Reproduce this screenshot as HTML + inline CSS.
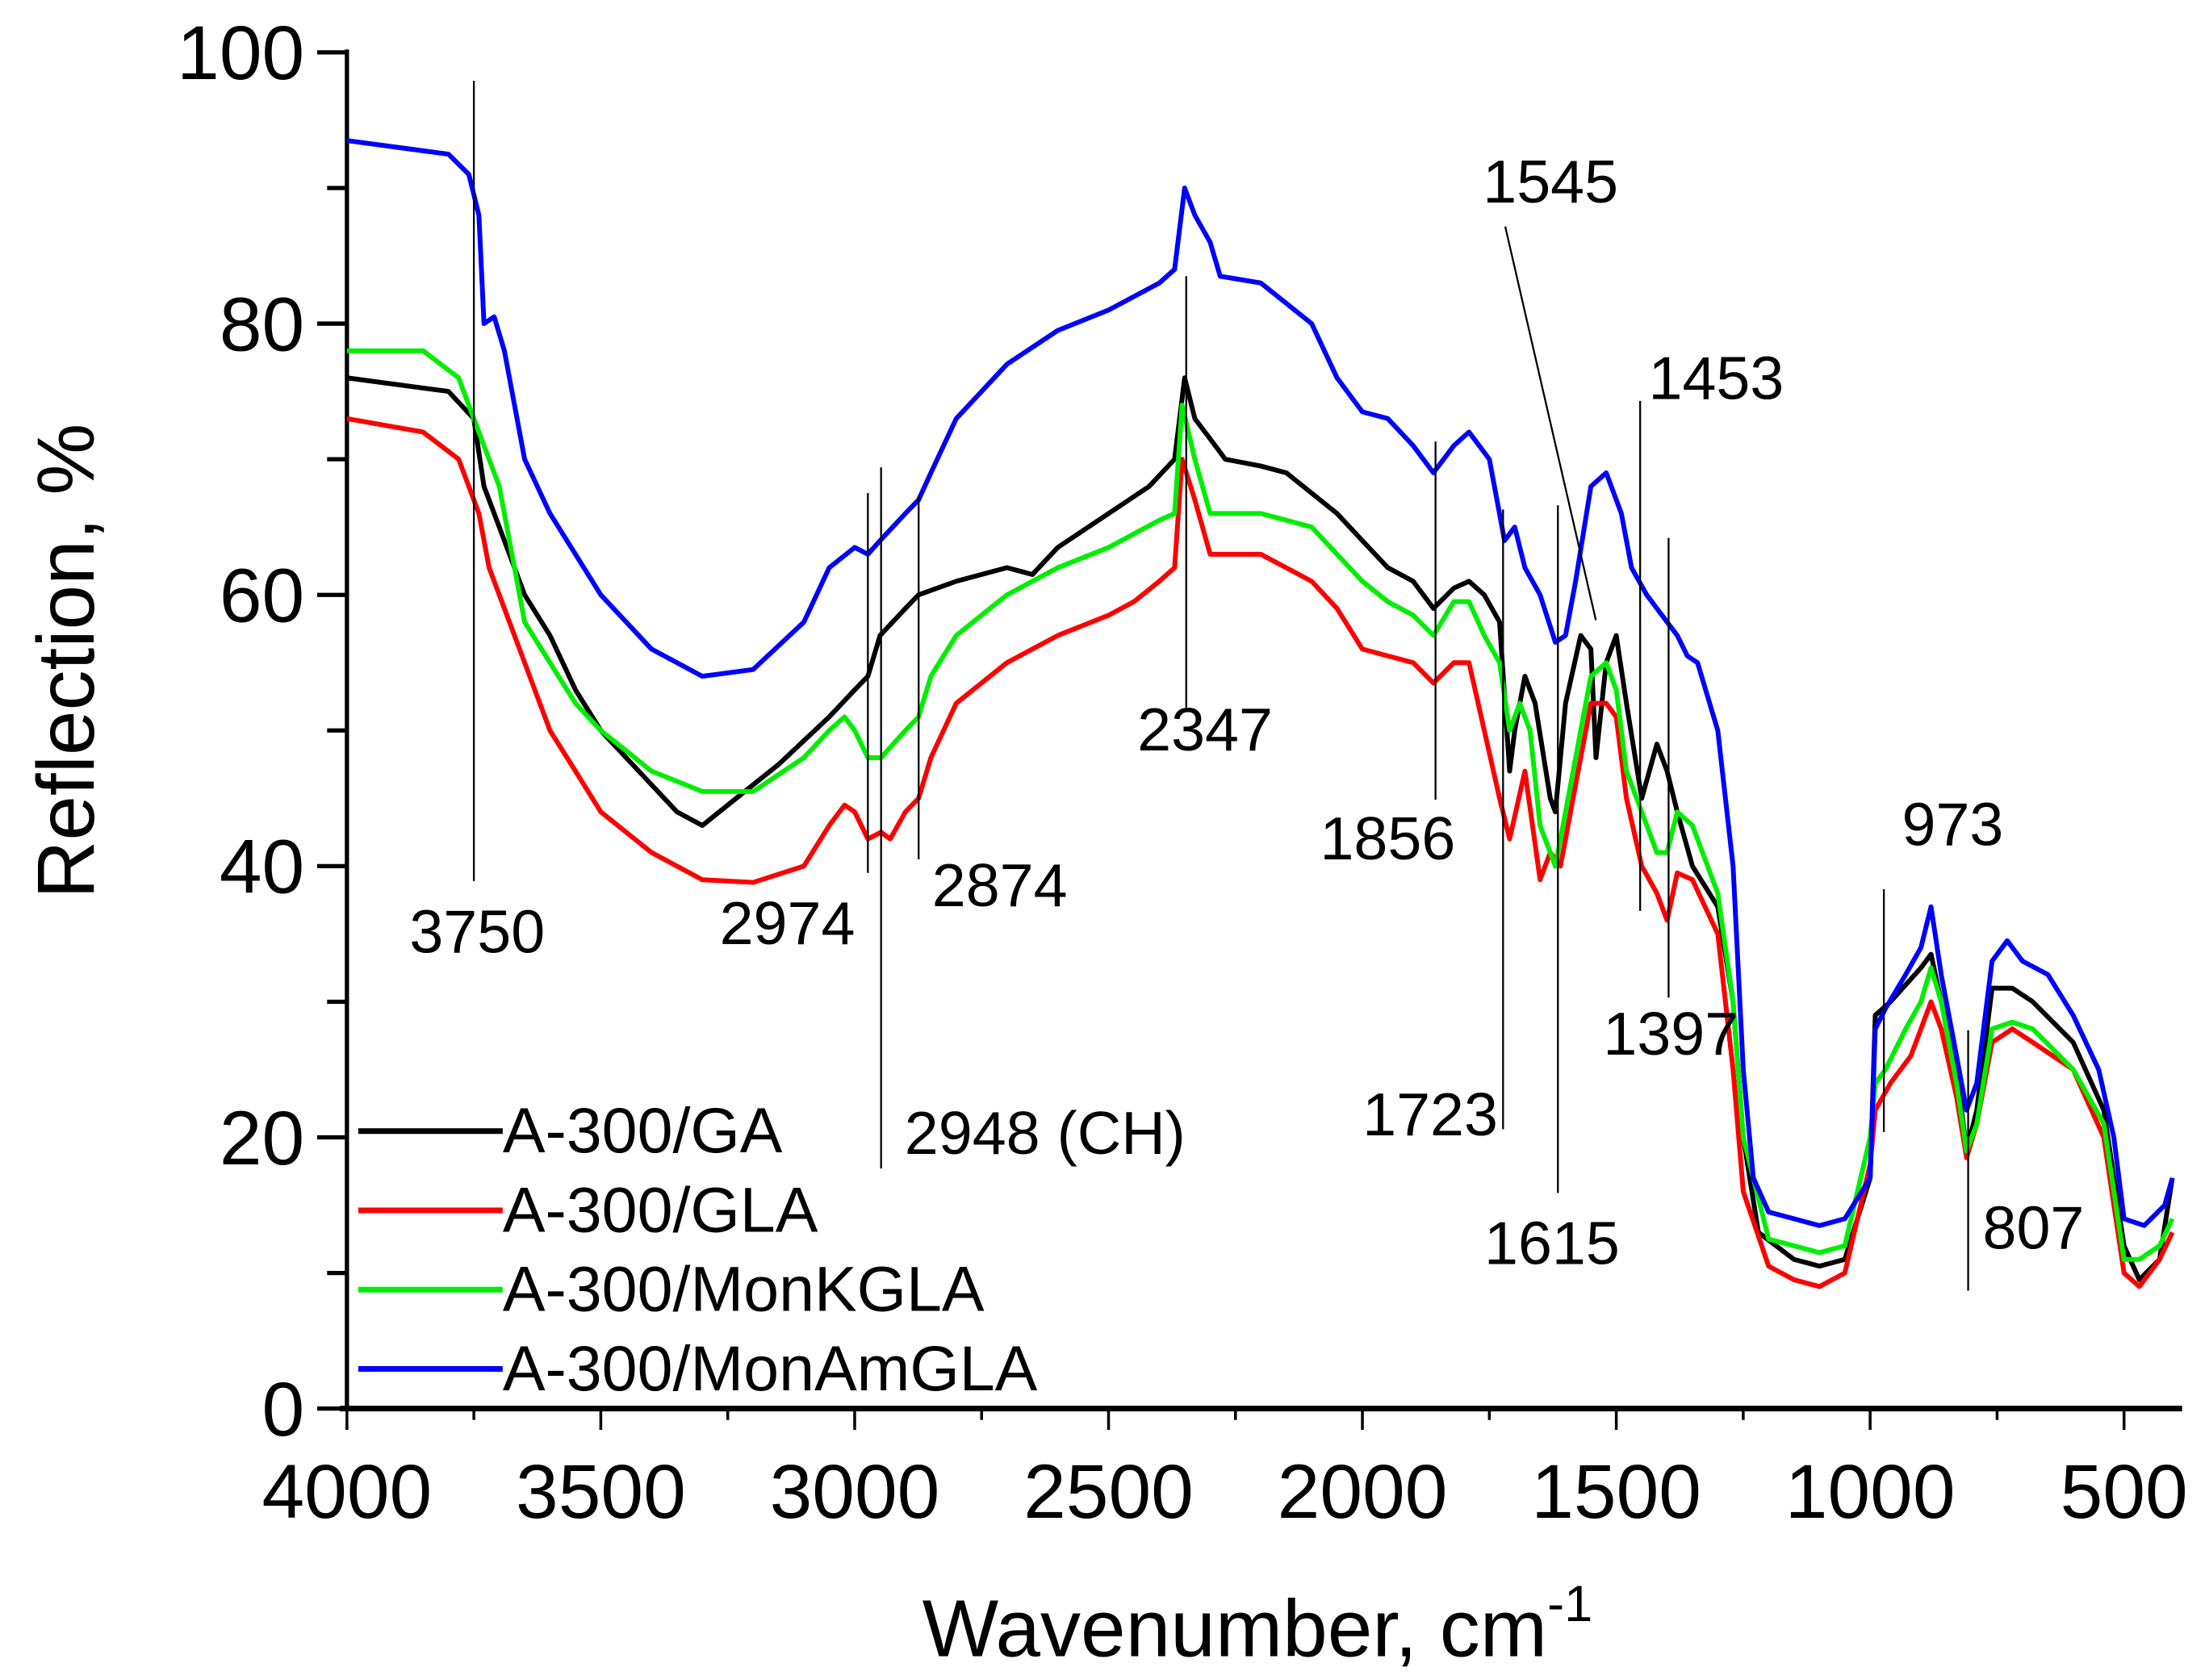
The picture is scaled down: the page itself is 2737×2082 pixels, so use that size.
<!DOCTYPE html>
<html><head><meta charset="utf-8"><style>
html,body{margin:0;padding:0;background:#fff}
svg{display:block}
text{font-family:"Liberation Sans",sans-serif;fill:#000}
</style></head><body>
<svg id="chart" width="2737" height="2082" viewBox="0 0 1560 1186.7" preserveAspectRatio="none" xmlns="http://www.w3.org/2000/svg">
<g id="axes"></g>
<g id="series"></g>
<g id="annots"></g>
<g id="legend"></g>
<text x="0" y="0" font-size="57" text-anchor="middle" transform="translate(66,467) rotate(-90)">Reflection, %</text>
<text x="888" y="1170" font-size="57" text-anchor="middle">Wavenumber, cm<tspan font-size="36" dy="-25">-1</tspan></text>
</svg>
<script>
const xTicks=[4000,3500,3000,2500,2000,1500,1000,500];
const yTicks=[0,20,40,60,80,100];
const seriesNames=["A-300/GA","A-300/GLA","A-300/MonKGLA","A-300/MonAmGLA"];
const seriesColors=["#000000","#ff0000","#00ee00","#0000ff"];
const gaWn=[4000,3800,3750,3730,3700,3650,3600,3550,3500,3450,3400,3350,3300,3250,3150,3050,3000,2974,2950,2900,2874,2800,2700,2650,2600,2500,2420,2370,2350,2330,2300,2270,2200,2150,2050,2000,1950,1900,1860,1820,1790,1760,1730,1710,1700,1680,1660,1630,1620,1600,1570,1550,1540,1520,1500,1480,1450,1420,1400,1380,1350,1300,1270,1250,1220,1150,1100,1050,1000,990,960,900,880,860,830,810,790,760,720,680,600,540,500,470,430,405];
const gaVal=[76,75,73,68,65,60,57,53,50,48,46,44,43,44.5,47.5,51,53,54,57,59,60,61,62,61.5,63.5,66,68,70,76,73,71.5,70,69.5,69,66,64,62,61,59,60.5,61,60,58,47,50,54,52,45,44,52,57,56,48,55,57,52,45,49,47,44,40,37,30,20,13,11,10.5,11,17,29,30,32.5,33.5,30,25,19,22,31,31,30,27,22,12,9.5,11,17];
const glaWn=[4000,3850,3780,3740,3720,3700,3650,3600,3550,3500,3400,3300,3200,3100,3050,3020,3000,2974,2948,2930,2900,2874,2850,2800,2700,2600,2500,2450,2400,2370,2355,2330,2300,2200,2100,2050,2000,1950,1900,1860,1820,1790,1760,1730,1710,1680,1650,1630,1610,1580,1550,1520,1500,1480,1450,1420,1400,1380,1350,1300,1270,1250,1200,1150,1100,1050,1000,990,960,920,900,880,860,830,810,790,760,720,680,600,540,500,470,430,405];
const glaVal=[73,72,70,66,62,60,55,50,47,44,41,39,38.8,40,43,44.5,44,42,42.5,42,44,45,48,52,55,57,58.5,59.5,61,62,70,67,63,63,61,59,56,55.5,55,53.5,55,55,50,45,42,47,39,41,40,46,52,52,51,45,40,38,36,39.5,39,35,25,16,10.5,9.5,9,10,18,22,24,26,28,30,28,23,18.5,21,27,28,27,25,20,10,9,11,13];
const mkWn=[4000,3850,3780,3750,3720,3700,3650,3600,3550,3500,3400,3300,3200,3100,3050,3020,3000,2974,2948,2900,2874,2850,2800,2700,2600,2500,2400,2370,2355,2330,2300,2200,2100,2050,2000,1950,1900,1860,1820,1790,1760,1730,1710,1690,1670,1650,1620,1600,1570,1550,1520,1500,1480,1450,1420,1400,1380,1350,1300,1270,1250,1200,1150,1100,1050,1000,990,970,930,900,880,860,830,810,790,760,720,680,600,540,500,470,430,405];
const mkVal=[78,78,76,73,70,68,58,55,52,50,47,45.5,45.5,48,50,51,50,48,48,50,51,54,57,60,62,63.5,65.5,66,74,70,66,66,65,63,61,59.5,58.5,57,59.5,59.5,57,55,50,52,50,43,40,44,50,54,55,53,47,44,41,41,44,43,38,30,20,12.5,12,11.5,12,20,24,25,28,30,32.5,30,24,19,21,28,28.5,28,25,21,11,11,12,14];
const maWn=[4000,3800,3760,3740,3730,3710,3690,3650,3600,3500,3400,3300,3200,3100,3050,3000,2974,2950,2900,2874,2850,2800,2700,2600,2500,2400,2370,2350,2330,2300,2280,2200,2100,2050,2000,1950,1900,1860,1820,1790,1750,1720,1700,1680,1650,1620,1600,1580,1550,1520,1490,1470,1440,1400,1380,1360,1340,1300,1270,1250,1230,1200,1100,1050,1000,990,970,930,900,880,860,830,810,790,760,730,700,650,600,550,520,500,460,420,405];
const maVal=[93.5,92.5,91,88,80,80.5,78,70,66,60,56,54,54.5,58,62,63.5,63,64,66,67,69,73,77,79.5,81,83,84,90,88,86,83.5,83,80,76,73.5,73,71,69,71,72,70,64,65,62,60,56.5,57,61,68,69,66,62,60,58,57,55.5,55,50,40,25,17,14.5,13.5,14,17,28,29.5,32,34,37,32,26,22,24,33,34.5,33,32,29,25,20,14,13.5,15,17];
const annWn=[3750,2974,2948,2874,2347,1856,1723,1615,1453,1397,973,807];
const annTop=[97.9,67.5,69.4,67.3,83.5,71.3,66.3,66.6,74.3,64.2,38.3,27.9];
const annBot=[38.9,39.5,17.7,40.5,51.7,44.9,20.6,15.9,36.7,30.3,20.4,8.7];

const NS="http://www.w3.org/2000/svg";
const X0=245,XPX=0.35857,Y0=995,YPX=9.58;
function xs(w){return X0+(4000-w)*XPX;}
function ys(v){return Y0-v*YPX;}
function el(tag,attrs,parent){const e=document.createElementNS(NS,tag);for(const k in attrs)e.setAttribute(k,attrs[k]);parent.appendChild(e);return e;}
const axes=document.getElementById('axes');
let a=el('line',{x1:240,y1:Y0,x2:1541,y2:Y0,stroke:'#000','stroke-width':4},axes);


a=el('line',{x1:X0,y1:35,x2:X0,y2:Y0,stroke:'#000','stroke-width':3},axes);


for(let w=4000;w>=400;w-=250){
  const major=w%500===0;
  const t=el('line',{x1:xs(w),y1:Y0,x2:xs(w),y2:Y0+(major?15:8),stroke:'#000','stroke-width':2},axes);
  
  
}
xTicks.forEach(w=>{
  const t=el('text',{x:xs(w),y:1072,'font-size':54,'text-anchor':'middle'},axes);
  t.textContent=w;
  
  
});
for(let v=0;v<=100;v+=10){
  const major=v%20===0;
  const t=el('line',{x1:X0,y1:ys(v),x2:X0-(major?21:14),y2:ys(v),stroke:'#000','stroke-width':3},axes);
  
  
}
yTicks.forEach(v=>{
  const t=el('text',{x:215,y:ys(v)+19,'font-size':54,'text-anchor':'end'},axes);
  t.textContent=v;
  
  
});
const sg=document.getElementById('series');
const sets=[[gaWn,gaVal],[glaWn,glaVal],[mkWn,mkVal],[maWn,maVal]];
sets.forEach((s,i)=>{
  const pts=s[0].map((w,j)=>xs(w).toFixed(1)+','+ys(s[1][j]).toFixed(1)).join(' ');
  const p=el('polyline',{points:pts,fill:'none',stroke:seriesColors[i],'stroke-width':3.4,'stroke-linejoin':'round'},sg);
  
  
});
const ag=document.getElementById('annots');
annWn.forEach((w,i)=>{
  const l=el('line',{x1:xs(w),y1:ys(annTop[i]),x2:xs(w),y2:ys(annBot[i]),stroke:'#000','stroke-width':1.3},ag);
  
  
});
const sl=el('line',{x1:1063,y1:160,x2:1127,y2:438,stroke:'#000','stroke-width':1.3},ag);


const labels=[["3750",337,673],["2974",556,667],["2874",706,640],["2948 (CH)",738,815],["2347",851,530],["1856",980,607],["1545",1095,143],["1453",1212,282],["1723",1010,802],["1615",1096,893],["1397",1180,745],["973",1379,597],["807",1436,882]];
labels.forEach(L=>{
  const t=el('text',{x:L[1],y:L[2],'font-size':43,'text-anchor':'middle'},ag);
  t.textContent=L[0];
  
  
});
const lg=document.getElementById('legend');
seriesNames.forEach((n,i)=>{
  const y=799+i*56;
  const l=el('line',{x1:253,y1:y,x2:355,y2:y,stroke:seriesColors[i],'stroke-width':4},lg);
  
  
  const t=el('text',{x:355,y:y+15,'font-size':45},lg);
  t.textContent=n;
  
  
});
</script>
</body></html>
